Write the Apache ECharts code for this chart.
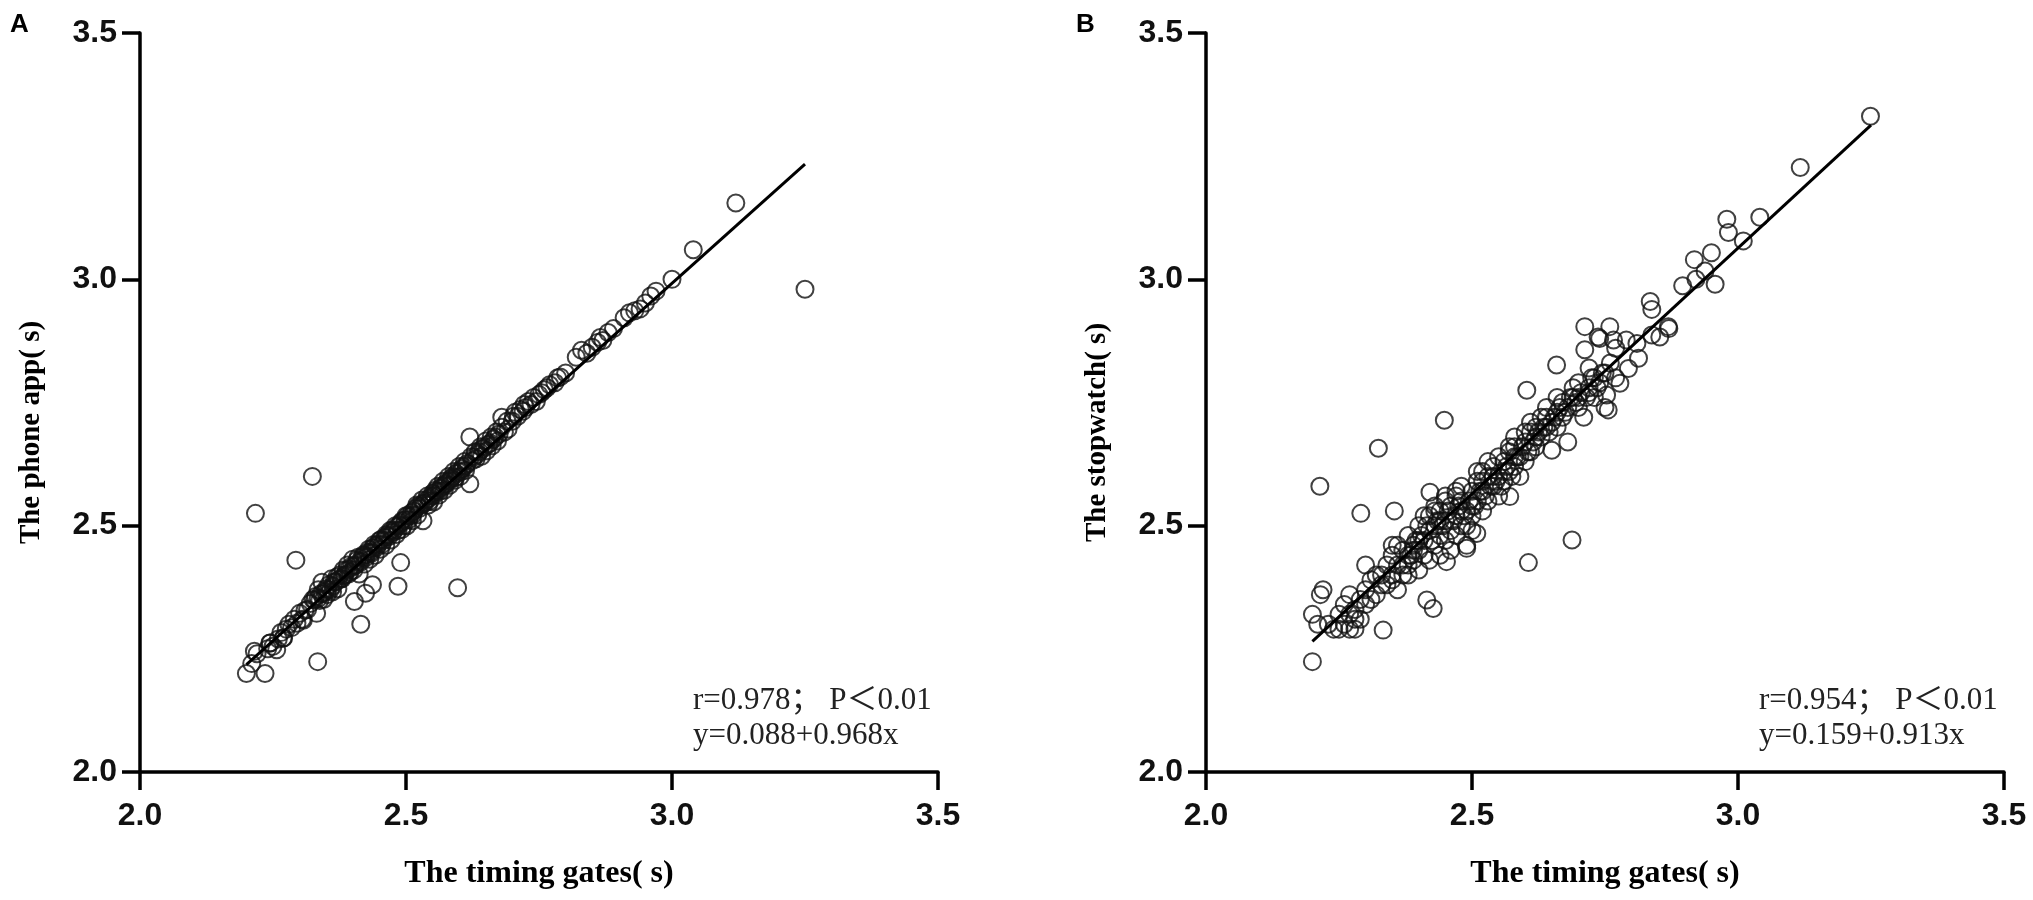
<!DOCTYPE html>
<html>
<head>
<meta charset="utf-8">
<script src="https://cdn.jsdelivr.net/npm/echarts@6/dist/echarts.min.js"></script>
<style>
  html, body { margin: 0; padding: 0; background: #fff; }
  #chart { width: 2033px; height: 900px; }
</style>
</head>
<body>
<div id="chart"></div>
<script>
// panel A: timing gates (x) vs phone app (y)
const gatesA = [
  2.20, 2.21, 2.215, 2.22, 2.235, 2.24, 2.245, 2.25, 2.26, 2.265, 2.27, 2.275, 2.28, 2.285, 2.29, 2.295,
  2.30, 2.305, 2.31, 2.315, 2.32, 2.325, 2.33, 2.332, 2.335, 2.34, 2.342, 2.345, 2.35, 2.352, 2.355, 2.36,
  2.362, 2.365, 2.37, 2.372, 2.375, 2.38, 2.382, 2.385, 2.39, 2.392, 2.395, 2.40, 2.402, 2.405, 2.41, 2.412,
  2.415, 2.42, 2.422, 2.425, 2.43, 2.432, 2.435, 2.44, 2.442, 2.445, 2.45, 2.452, 2.455, 2.46, 2.462, 2.465,
  2.47, 2.472, 2.475, 2.48, 2.482, 2.485, 2.49, 2.492, 2.495, 2.50, 2.502, 2.505, 2.51, 2.512, 2.515, 2.52,
  2.522, 2.525, 2.53, 2.532, 2.535, 2.54, 2.542, 2.545, 2.55, 2.552, 2.555, 2.56, 2.562, 2.565, 2.57, 2.572,
  2.575, 2.58, 2.582, 2.585, 2.59, 2.592, 2.595, 2.60, 2.602, 2.605, 2.61, 2.612, 2.615, 2.62, 2.62, 2.622,
  2.625, 2.63, 2.632, 2.635, 2.64, 2.642, 2.645, 2.65, 2.652, 2.655, 2.66, 2.662, 2.665, 2.67, 2.672, 2.675,
  2.68, 2.68, 2.685, 2.69, 2.692, 2.70, 2.702, 2.705, 2.71, 2.715, 2.72, 2.722, 2.725, 2.73, 2.735, 2.74,
  2.745, 2.75, 2.755, 2.76, 2.765, 2.77, 2.78, 2.785, 2.79, 2.80, 2.82, 2.83, 2.84, 2.85, 2.86, 2.865,
  2.87, 2.88, 2.89, 2.91, 2.92, 2.93, 2.94, 2.95, 2.96, 2.97, 3.00, 3.04, 3.12, 3.25,
  2.217, 2.324, 2.293, 2.334, 2.415, 2.485, 2.597, 2.49, 2.403, 2.424, 2.437, 2.257, 2.244, 2.269, 2.307, 2.328,
  2.335, 2.338, 2.343, 2.348, 2.353, 2.358, 2.363, 2.368, 2.373, 2.378, 2.383, 2.388, 2.393, 2.398, 2.403, 2.408,
  2.413, 2.418, 2.423, 2.428, 2.433, 2.438, 2.443, 2.448, 2.453, 2.458, 2.463, 2.468, 2.473, 2.478, 2.483, 2.488,
  2.493, 2.498, 2.503, 2.508, 2.513, 2.518, 2.523, 2.528, 2.533, 2.538, 2.543, 2.548, 2.553, 2.558, 2.563, 2.568,
  2.573, 2.578, 2.583, 2.588, 2.593, 2.598, 2.603, 2.608, 2.613, 2.628, 2.638, 2.648, 2.658, 2.668
];
const phoneApp = [
  2.20, 2.22, 2.245, 2.24, 2.20, 2.25, 2.262, 2.255, 2.27, 2.283, 2.272, 2.29, 2.30, 2.293, 2.31, 2.302,
  2.322, 2.31, 2.328, 2.33, 2.342, 2.35, 2.356, 2.322, 2.37, 2.362, 2.385, 2.35, 2.372, 2.36, 2.38, 2.392,
  2.366, 2.386, 2.396, 2.372, 2.40, 2.392, 2.41, 2.40, 2.42, 2.402, 2.406, 2.432, 2.41, 2.42, 2.436, 2.402,
  2.426, 2.441, 2.422, 2.436, 2.452, 2.432, 2.444, 2.462, 2.44, 2.456, 2.47, 2.452, 2.462, 2.476, 2.46, 2.48,
  2.49, 2.471, 2.486, 2.50, 2.482, 2.49, 2.506, 2.492, 2.50, 2.52, 2.50, 2.512, 2.526, 2.51, 2.53, 2.542,
  2.522, 2.535, 2.552, 2.51, 2.546, 2.56, 2.542, 2.55, 2.566, 2.548, 2.572, 2.58, 2.562, 2.576, 2.59, 2.572,
  2.585, 2.60, 2.582, 2.596, 2.61, 2.592, 2.606, 2.62, 2.60, 2.615, 2.63, 2.612, 2.626, 2.68, 2.585, 2.64,
  2.632, 2.65, 2.636, 2.645, 2.66, 2.641, 2.656, 2.672, 2.652, 2.665, 2.68, 2.662, 2.676, 2.69, 2.672, 2.686,
  2.70, 2.72, 2.69, 2.712, 2.696, 2.712, 2.722, 2.73, 2.722, 2.736, 2.732, 2.746, 2.74, 2.752, 2.746, 2.76,
  2.752, 2.766, 2.77, 2.776, 2.78, 2.786, 2.79, 2.80, 2.802, 2.81, 2.842, 2.856, 2.85, 2.862, 2.872, 2.882,
  2.876, 2.892, 2.90, 2.922, 2.932, 2.936, 2.94, 2.952, 2.966, 2.976, 3.00, 3.06, 3.155, 2.98,
  2.525, 2.60, 2.43, 2.224, 2.30, 2.377, 2.374, 2.425, 2.346, 2.363, 2.38, 2.248, 2.262, 2.272, 2.308, 2.349,
  2.352, 2.348, 2.362, 2.366, 2.37, 2.37, 2.378, 2.386, 2.39, 2.392, 2.398, 2.41, 2.412, 2.418, 2.418, 2.43,
  2.428, 2.437, 2.44, 2.446, 2.446, 2.455, 2.46, 2.462, 2.472, 2.47, 2.482, 2.478, 2.49, 2.49, 2.498, 2.502,
  2.51, 2.512, 2.52, 2.52, 2.522, 2.535, 2.54, 2.542, 2.545, 2.552, 2.555, 2.56, 2.562, 2.57, 2.57, 2.58,
  2.582, 2.59, 2.592, 2.60, 2.598, 2.61, 2.61, 2.62, 2.622, 2.64, 2.65, 2.66, 2.668, 2.68
];
// panel B: timing gates (x) vs stopwatch (y)
const gatesB = [
  2.20, 2.21, 2.20, 2.22, 2.215, 2.23, 2.24, 2.25, 2.26, 2.27, 2.28, 2.29, 2.25, 2.26, 2.27, 2.28,
  2.29, 2.30, 2.30, 2.31, 2.32, 2.33, 2.333, 2.34, 2.34, 2.35, 2.35, 2.36, 2.36, 2.37, 2.37, 2.38,
  2.38, 2.39, 2.39, 2.40, 2.40, 2.40, 2.41, 2.41, 2.42, 2.42, 2.42, 2.43, 2.43, 2.44, 2.44, 2.44,
  2.45, 2.45, 2.46, 2.46, 2.46, 2.47, 2.47, 2.48, 2.48, 2.49, 2.49, 2.50, 2.50, 2.50, 2.51, 2.51,
  2.52, 2.52, 2.53, 2.53, 2.54, 2.54, 2.55, 2.55, 2.56, 2.56, 2.57, 2.57, 2.58, 2.58, 2.59, 2.59,
  2.60, 2.60, 2.61, 2.61, 2.62, 2.62, 2.63, 2.63, 2.64, 2.64, 2.65, 2.65, 2.66, 2.66, 2.67, 2.67,
  2.68, 2.68, 2.69, 2.69, 2.70, 2.70, 2.712, 2.71, 2.712, 2.72, 2.72, 2.73, 2.73, 2.74, 2.74, 2.75,
  2.75, 2.76, 2.759, 2.77, 2.77, 2.778, 2.794, 2.79, 2.813, 2.81, 2.835, 2.838, 2.838, 2.853, 2.869, 2.87,
  2.896, 2.918, 2.921, 2.938, 2.95, 2.957, 2.979, 2.982, 3.01, 3.041, 3.117, 3.249,
  2.214, 2.324, 2.448, 2.291, 2.354, 2.421, 2.606, 2.688, 2.427, 2.415, 2.509, 2.49, 2.452, 2.571, 2.603, 2.659,
  2.737, 2.766, 2.753, 2.756, 2.45, 2.48, 2.52, 2.55, 2.58, 2.43, 2.47, 2.53, 2.57, 2.61, 2.38, 2.35,
  2.385, 2.395, 2.405, 2.415, 2.425, 2.435, 2.445, 2.455, 2.465, 2.475, 2.485, 2.495, 2.505, 2.515, 2.525, 2.535,
  2.545, 2.555, 2.565, 2.575, 2.585, 2.595, 2.605, 2.615, 2.625, 2.635, 2.645, 2.655, 2.665, 2.675, 2.685, 2.695,
  2.705, 2.715, 2.725, 2.735, 2.745, 2.40, 2.41, 2.43, 2.44, 2.47, 2.49, 2.50, 2.52, 2.54, 2.56, 2.58,
  2.60, 2.62, 2.64, 2.66, 2.70, 2.72, 2.36, 2.37, 2.39, 2.33, 2.32, 2.31, 2.28, 2.27, 2.30, 2.35,
  2.38, 2.45, 2.48, 2.51
];
const stopwatch = [
  2.224, 2.30, 2.32, 2.37, 2.36, 2.30, 2.29, 2.29, 2.30, 2.29, 2.29, 2.31, 2.32, 2.34, 2.36, 2.33,
  2.35, 2.37, 2.42, 2.39, 2.36, 2.40, 2.288, 2.38, 2.42, 2.44, 2.40, 2.46, 2.37, 2.42, 2.45, 2.48,
  2.40, 2.43, 2.46, 2.50, 2.45, 2.41, 2.47, 2.44, 2.49, 2.52, 2.43, 2.46, 2.50, 2.48, 2.53, 2.44,
  2.51, 2.47, 2.49, 2.54, 2.45, 2.52, 2.48, 2.55, 2.50, 2.46, 2.53, 2.57, 2.52, 2.49, 2.55, 2.59,
  2.53, 2.57, 2.60, 2.55, 2.58, 2.62, 2.56, 2.60, 2.63, 2.59, 2.61, 2.65, 2.62, 2.66, 2.64, 2.60,
  2.67, 2.63, 2.69, 2.65, 2.70, 2.66, 2.68, 2.72, 2.70, 2.74, 2.71, 2.653, 2.73, 2.76, 2.72, 2.75,
  2.67, 2.74, 2.78, 2.76, 2.79, 2.74, 2.857, 2.72, 2.904, 2.78, 2.82, 2.80, 2.76, 2.88, 2.79, 2.74,
  2.81, 2.83, 2.904, 2.86, 2.80, 2.789, 2.819, 2.877, 2.84, 2.87, 2.955, 2.939, 2.887, 2.883, 2.904, 2.90,
  2.987, 3.04, 3.00, 3.017, 3.054, 2.99, 3.122, 3.095, 3.078, 3.126, 3.227, 3.331,
  2.58, 2.657, 2.714, 2.525, 2.53, 2.568, 2.425, 2.471, 2.332, 2.349, 2.484, 2.454, 2.427, 2.559, 2.775, 2.826,
  2.883, 2.877, 2.765, 2.735, 2.56, 2.58, 2.61, 2.64, 2.68, 2.53, 2.57, 2.63, 2.66, 2.71, 2.44, 2.39,
  2.44, 2.47, 2.48, 2.50, 2.47, 2.51, 2.50, 2.53, 2.51, 2.54, 2.52, 2.55, 2.54, 2.57, 2.56, 2.58,
  2.59, 2.58, 2.62, 2.60, 2.64, 2.66, 2.65, 2.67, 2.69, 2.70, 2.69, 2.72, 2.74, 2.73, 2.76, 2.75,
  2.77, 2.76, 2.80, 2.78, 2.81, 2.47, 2.52, 2.54, 2.51, 2.56, 2.50, 2.54, 2.59, 2.60, 2.61, 2.64,
  2.69, 2.68, 2.72, 2.70, 2.76, 2.77, 2.42, 2.40, 2.45, 2.38, 2.40, 2.35, 2.31, 2.32, 2.34, 2.46,
  2.42, 2.55, 2.53, 2.61
];
// fitted lines as drawn in the figure (start, end)
const fitA = [[2.2, 2.218], [3.25, 3.234]];
const fitB = [[2.2, 2.265], [3.25, 3.313]];
const ticks = { min: 2.0, max: 3.5, interval: 0.5 };
const statsA = ['r=0.978； P＜0.01', 'y=0.088+0.968x'];
const statsB = ['r=0.954； P＜0.01', 'y=0.159+0.913x'];

const zip = (xs, ys) => xs.map((x, i) => [x, ys[i]]);

const plotW = 798;
const plotH = 739;
const plotTop = 33;
const leftA = 140;
const leftB = 1206;

const serif = "'Liberation Serif', 'Times New Roman', serif";
const sans = "'Liberation Sans', Arial, sans-serif";

function xAxisFor(gridIndex) {
  return {
    gridIndex,
    type: 'value',
    ...ticks,
    name: 'The timing gates( s)',
    nameLocation: 'middle',
    nameGap: 86,
    nameTextStyle: { fontFamily: serif, fontWeight: 'bold', fontSize: 32, color: '#000' },
    axisLine: { onZero: false, lineStyle: { color: '#000', width: 3.5 } },
    axisTick: { length: 18, lineStyle: { color: '#000', width: 3.5 } },
    axisLabel: {
      margin: 28, fontFamily: sans, fontWeight: 'bold', fontSize: 32, color: '#111',
      formatter: (v) => v.toFixed(1)
    },
    splitLine: { show: false }
  };
}

function yAxisFor(gridIndex, name) {
  return {
    gridIndex,
    type: 'value',
    ...ticks,
    name,
    nameLocation: 'middle',
    nameGap: 94,
    nameRotate: 90,
    nameTextStyle: { fontFamily: serif, fontWeight: 'bold', fontSize: 29, color: '#000', padding: [0, 60, 0, 0] },
    axisLine: { onZero: false, lineStyle: { color: '#000', width: 3.5 } },
    axisTick: { length: 18, lineStyle: { color: '#000', width: 3.5 } },
    axisLabel: {
      margin: 23, fontFamily: sans, fontWeight: 'bold', fontSize: 32, color: '#111',
      formatter: (v) => v.toFixed(1)
    },
    splitLine: { show: false }
  };
}

function scatterFor(idx, data) {
  return {
    type: 'scatter',
    xAxisIndex: idx,
    yAxisIndex: idx,
    data,
    symbol: 'circle',
    symbolSize: 17,
    itemStyle: { color: 'rgba(0,0,0,0)', borderColor: '#111', borderWidth: 2 },
    emphasis: { disabled: true },
    z: 2
  };
}

function fitFor(idx, data) {
  return {
    type: 'line',
    xAxisIndex: idx,
    yAxisIndex: idx,
    data,
    showSymbol: false,
    lineStyle: { color: '#000', width: 3 },
    z: 3
  };
}

function statsText(left, lines) {
  return {
    type: 'text',
    left: left + 553,
    top: 683,
    style: {
      text: lines.join('\n'),
      font: "31px 'Liberation Serif', 'Noto Sans CJK SC', serif",
      lineHeight: 35,
      fill: '#222'
    }
  };
}

const chart = echarts.init(document.getElementById('chart'), null, { renderer: 'canvas' });
chart.setOption({
  backgroundColor: '#fff',
  animation: false,
  grid: [
    { left: leftA, top: plotTop, width: plotW, height: plotH },
    { left: leftB, top: plotTop, width: plotW, height: plotH }
  ],
  xAxis: [xAxisFor(0), xAxisFor(1)],
  yAxis: [yAxisFor(0, 'The phone app( s)'), yAxisFor(1, 'The stopwatch( s)')],
  series: [
    scatterFor(0, zip(gatesA, phoneApp)),
    fitFor(0, fitA),
    scatterFor(1, zip(gatesB, stopwatch)),
    fitFor(1, fitB)
  ],
  graphic: [
    { type: 'text', left: 10, top: 12, style: { text: 'A', font: "bold 26px 'Liberation Sans', Arial", fill: '#000' } },
    { type: 'text', left: 1076, top: 12, style: { text: 'B', font: "bold 26px 'Liberation Sans', Arial", fill: '#000' } },
    statsText(leftA, statsA),
    statsText(leftB, statsB)
  ]
});
</script>
</body>
</html>
